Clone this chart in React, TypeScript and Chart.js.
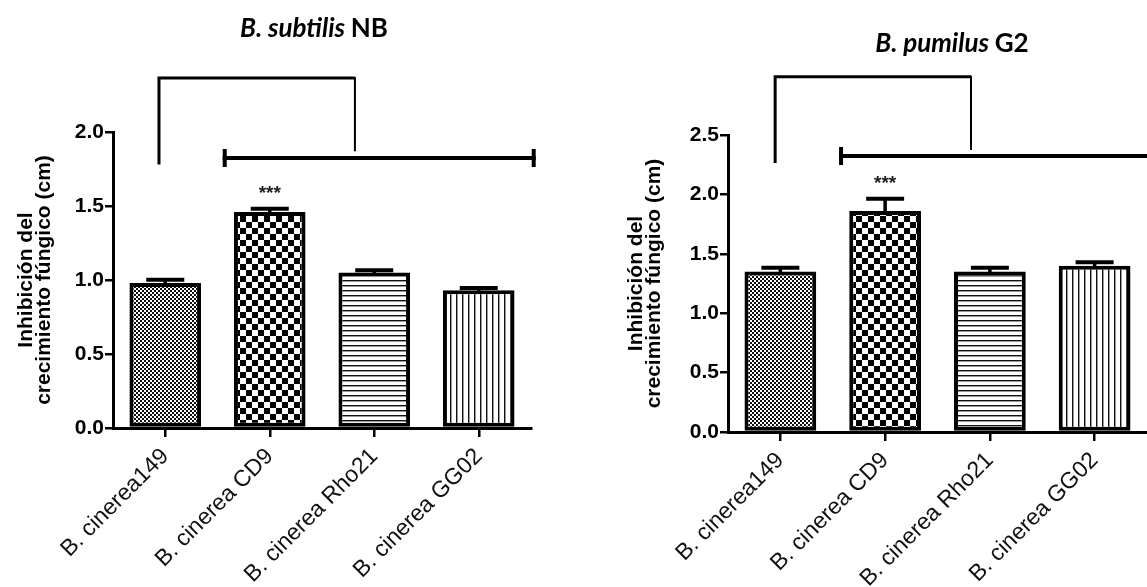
import React, { useEffect, useRef } from 'react';
import { Chart, registerables } from 'chart.js';

Chart.register(...registerables);

// ---------- data ----------
const categories = ['B. cinerea149', 'B. cinerea CD9', 'B. cinerea Rho21', 'B. cinerea GG02'];

const subtilisMeans = [0.98, 1.46, 1.05, 0.93];
const subtilisErrors = [0.035, 0.035, 0.03, 0.03];
const subtilisMarks = ['', '***', '', ''];
const subtilisTicks = [0, 0.5, 1.0, 1.5, 2.0];
// comparison brackets (category index / value units)
const subtilisTopBracket = [-0.06, 1.78, 2.365, 1.815, 1.87];
const subtilisRangeLine = [0.55, 3.545, 1.824];

const pumilusMeans = [1.35, 1.86, 1.35, 1.4];
const pumilusErrors = [0.05, 0.12, 0.05, 0.045];
const pumilusMarks = ['', '***', '', ''];
const pumilusTicks = [0, 0.5, 1.0, 1.5, 2.0, 2.5];
const pumilusTopBracket = [-0.05, 2.264, 2.99, 1.82, 2.374];
const pumilusRangeLine = [0.56, 3.6, 2.323];

const yTitleLines = ['Inhibición del', 'crecimiento fúngico (cm)'];

function makePatterns(ctx: CanvasRenderingContext2D) {
  const mk = (w: number, h: number, draw: (c: CanvasRenderingContext2D) => void) => {
    const cv = document.createElement('canvas');
    cv.width = w;
    cv.height = h;
    const c = cv.getContext('2d')!;
    c.fillStyle = '#fff';
    c.fillRect(0, 0, w, h);
    draw(c);
    return ctx.createPattern(cv, 'repeat');
  };
  const fine = mk(4, 4, (c) => {
    c.fillStyle = '#111';
    c.fillRect(0, 0, 2, 2);
    c.fillRect(2, 2, 2, 2);
  });
  const coarse = mk(12, 12, (c) => {
    c.fillStyle = '#000';
    c.fillRect(0, 0, 6, 6);
    c.fillRect(6, 6, 6, 6);
  });
  const hlines = mk(4, 5, (c) => {
    c.fillStyle = '#111';
    c.fillRect(0, 0, 4, 1);
    c.fillStyle = '#999';
    c.fillRect(0, 1, 4, 1);
  });
  const vlines = mk(6, 4, (c) => {
    c.fillStyle = '#111';
    c.fillRect(0, 0, 1, 4);
    c.fillStyle = '#999';
    c.fillRect(1, 0, 1, 4);
  });
  return [fine, coarse, hlines, vlines];
}

const annotPlugin = {
  id: 'annot',
  afterDraw(chart: any, _args: any, opts: any) {
    const ctx: CanvasRenderingContext2D = chart.ctx;
    const xs = chart.scales.x;
    const ys = chart.scales.y;
    const meta = chart.getDatasetMeta(0);
    ctx.save();
    ctx.strokeStyle = '#000';
    ctx.lineCap = 'butt';
    // error bars + significance marks
    meta.data.forEach((bar: any, i: number) => {
      const top = ys.getPixelForValue(opts.means[i] + opts.errors[i]);
      ctx.lineWidth = 3.5;
      ctx.beginPath();
      ctx.moveTo(bar.x, bar.y + 2);
      ctx.lineTo(bar.x, top + 2);
      ctx.stroke();
      ctx.lineWidth = 4;
      ctx.beginPath();
      ctx.moveTo(bar.x - 19, top + 2);
      ctx.lineTo(bar.x + 19, top + 2);
      ctx.stroke();
      if (opts.marks[i]) {
        ctx.fillStyle = '#222';
        ctx.font = 'bold 19px "Liberation Sans", Arial, sans-serif';
        ctx.textAlign = 'center';
        ctx.textBaseline = 'alphabetic';
        ctx.fillText(opts.marks[i], bar.x, top - 8);
      }
    });
    // top bracket
    const tb = opts.topBracket;
    const xL = xs.getPixelForValue(tb[0]);
    const xR = xs.getPixelForValue(tb[3]);
    const yLB = ys.getPixelForValue(tb[1]);
    const yT = ys.getPixelForValue(tb[2]);
    const yRB = ys.getPixelForValue(tb[4]);
    ctx.lineWidth = 3;
    ctx.beginPath();
    ctx.moveTo(xL, yLB);
    ctx.lineTo(xL, yT);
    ctx.lineTo(xR, yT);
    ctx.stroke();
    ctx.lineWidth = 2;
    ctx.beginPath();
    ctx.moveTo(xR, yT - 1);
    ctx.lineTo(xR, yRB);
    ctx.stroke();
    // range line with end caps
    const rl = opts.rangeLine;
    const x1 = xs.getPixelForValue(rl[0]);
    const x2 = xs.getPixelForValue(rl[1]);
    const yl = ys.getPixelForValue(rl[2]);
    ctx.lineWidth = 4;
    ctx.beginPath();
    ctx.moveTo(x1, yl);
    ctx.lineTo(x2, yl);
    ctx.stroke();
    ctx.beginPath();
    ctx.moveTo(x1 + 2, yl - 9);
    ctx.lineTo(x1 + 2, yl + 9);
    ctx.moveTo(x2 - 2, yl - 9);
    ctx.lineTo(x2 - 2, yl + 9);
    ctx.stroke();
    // title (italic species + upright strain)
    const fontIt = 'italic bold 26px Lato, "Open Sans", sans-serif';
    const fontUp = 'bold 26px Lato, "Open Sans", sans-serif';
    ctx.fillStyle = '#000';
    ctx.textBaseline = 'alphabetic';
    ctx.textAlign = 'left';
    ctx.font = fontIt;
    const w1 = ctx.measureText(opts.titleItalic + ' ').width;
    ctx.font = fontUp;
    const w2 = ctx.measureText(opts.titleUpright).width;
    const sx = opts.titleX - (w1 + w2) / 2;
    ctx.font = fontIt;
    ctx.fillText(opts.titleItalic + ' ', sx, opts.titleY);
    ctx.font = fontUp;
    ctx.fillText(opts.titleUpright, sx + w1, opts.titleY);
    ctx.restore();
  },
};

type PanelProps = {
  means: number[];
  errors: number[];
  marks: string[];
  ticks: number[];
  topBracket: number[];
  rangeLine: number[];
  titleItalic: string;
  titleUpright: string;
  titleX: number;
  titleY: number;
  width: number;
  height: number;
  areaLeft: number;
  areaRight: number;
  areaTop: number;
  areaBottom: number;
  yTitlePad: number;
};

function Panel(p: PanelProps) {
  const ref = useRef<HTMLCanvasElement>(null);
  useEffect(() => {
    const canvas = ref.current!;
    const ctx = canvas.getContext('2d')!;
    const patterns = makePatterns(ctx);
    const yMax = p.ticks[p.ticks.length - 1];
    const chart = new Chart(canvas, {
      type: 'bar',
      data: {
        labels: categories,
        datasets: [
          {
            data: p.means,
            backgroundColor: patterns as any,
            borderColor: '#000',
            borderWidth: 4,
            borderSkipped: false,
            categoryPercentage: 1,
            barPercentage: 0.685,
          },
        ],
      },
      options: {
        responsive: false,
        animation: false,
        devicePixelRatio: 1,
        layout: {
          padding: { left: 0, right: p.width - p.areaRight, top: p.areaTop, bottom: 0 },
        },
        plugins: {
          legend: { display: false },
          tooltip: { enabled: false },
          annot: {
            means: p.means,
            errors: p.errors,
            marks: p.marks,
            topBracket: p.topBracket,
            rangeLine: p.rangeLine,
            titleItalic: p.titleItalic,
            titleUpright: p.titleUpright,
            titleX: p.titleX,
            titleY: p.titleY,
          },
        } as any,
        scales: {
          x: {
            offset: true,
            grid: {
              offset: false,
              drawOnChartArea: false,
              drawTicks: true,
              tickLength: 9,
              color: '#000',
              lineWidth: 2.5,
            },
            border: { display: true, color: '#000', width: 3 },
            ticks: {
              autoSkip: false,
              maxRotation: 45,
              minRotation: 45,
              padding: 6,
              color: '#111',
              font: { family: '"Liberation Sans", Arial, sans-serif', size: 23 },
            },
            afterFit: (s: any) => {
              s.height = p.height - p.areaBottom;
            },
          },
          y: {
            min: 0,
            max: yMax,
            afterBuildTicks: (s: any) => {
              s.ticks = p.ticks.map((v) => ({ value: v }));
            },
            grid: {
              drawOnChartArea: false,
              drawTicks: true,
              tickLength: 8,
              color: '#000',
              lineWidth: 2.5,
            },
            border: { display: true, color: '#000', width: 3 },
            ticks: {
              padding: 1,
              color: '#000',
              font: { family: '"Liberation Sans", Arial, sans-serif', size: 21, weight: 'bold' },
              callback: (v: any) => Number(v).toFixed(1),
            },
            title: {
              display: true,
              text: yTitleLines,
              color: '#000',
              padding: { top: p.yTitlePad, bottom: 0 },
              font: {
                family: '"Liberation Sans", Arial, sans-serif',
                size: 21,
                weight: 'bold',
                lineHeight: 0.82,
              },
            },
            afterFit: (s: any) => {
              s.width = p.areaLeft;
            },
          },
        },
      },
      plugins: [annotPlugin],
    } as any);
    return () => chart.destroy();
  }, []);
  return <canvas ref={ref} width={p.width} height={p.height} style={{ display: 'block', width: p.width, height: p.height }} />;
}

export default function App() {
  return (
    <div
      style={{
        position: 'absolute',
        left: 0,
        top: 0,
        width: 1147,
        height: 587,
        overflow: 'hidden',
        background: '#fff',
      }}
    >
      <div style={{ position: 'absolute', left: 0, top: 0 }}>
        <Panel
          means={subtilisMeans}
          errors={subtilisErrors}
          marks={subtilisMarks}
          ticks={subtilisTicks}
          topBracket={subtilisTopBracket}
          rangeLine={subtilisRangeLine}
          titleItalic="B. subtilis"
          titleUpright="NB"
          titleX={314}
          titleY={37}
          width={580}
          height={587}
          areaLeft={113}
          areaRight={531}
          areaTop={132}
          areaBottom={428}
          yTitlePad={18}
        />
      </div>
      <div style={{ position: 'absolute', left: 580, top: 0 }}>
        <Panel
          means={pumilusMeans}
          errors={pumilusErrors}
          marks={pumilusMarks}
          ticks={pumilusTicks}
          topBracket={pumilusTopBracket}
          rangeLine={pumilusRangeLine}
          titleItalic="B. pumilus"
          titleUpright="G2"
          titleX={372}
          titleY={52}
          width={567}
          height={587}
          areaLeft={148}
          areaRight={567}
          areaTop={135}
          areaBottom={432}
          yTitlePad={48}
        />
      </div>
    </div>
  );
}
